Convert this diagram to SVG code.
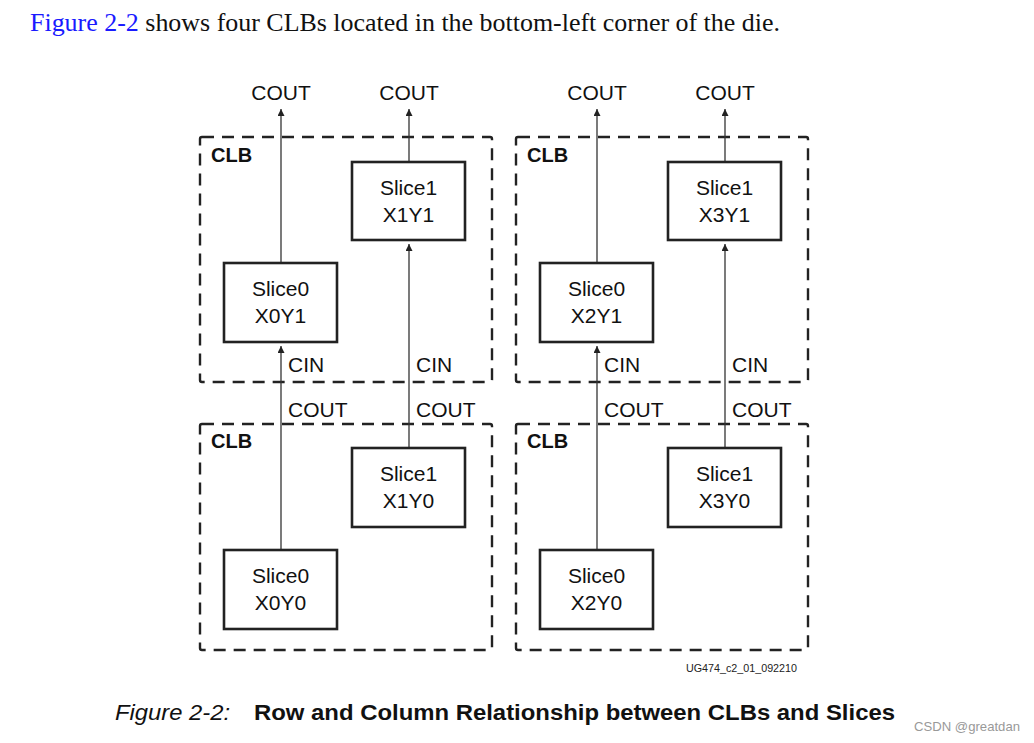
<svg xmlns="http://www.w3.org/2000/svg" width="1034" height="743" viewBox="0 0 1034 743">
<defs>
<marker id="ah" viewBox="0 0 10 10" refX="10" refY="5" markerWidth="11" markerHeight="7" markerUnits="userSpaceOnUse" orient="auto">
<path d="M0,0 L10,5 L0,10 z" fill="#222"/>
</marker>
</defs>
<style>
.clb{fill:none;stroke:#222;stroke-width:2.4;stroke-dasharray:12 8}
.sl{fill:#fff;stroke:#222;stroke-width:2.6}
.t{font-family:"Liberation Sans",Arial,sans-serif;font-size:21px;fill:#111}
.c{text-anchor:middle}
.b{font-family:"Liberation Sans",Arial,sans-serif;font-size:20px;font-weight:bold;fill:#111}
.w{stroke:#333;stroke-width:1.3;fill:none}
.a{marker-end:url(#ah)}
</style>
<rect width="1034" height="743" fill="#fff"/>
<text x="30" y="31" font-family="'Liberation Serif','Times New Roman',serif" font-size="25" fill="#111" textLength="750" lengthAdjust="spacingAndGlyphs"><tspan fill="#1a1aff">Figure 2-2</tspan> shows four CLBs located in the bottom-left corner of the die.</text>

<g id="clb-x0-top"><rect class="clb" x="200" y="137" width="292" height="245" rx="2"/><text class="b" x="211" y="162">CLB</text></g>
<g id="clb-x0-bot"><rect class="clb" x="200" y="424" width="292" height="226" rx="2"/><text class="b" x="211" y="448">CLB</text></g>
<g id="clb-x1-top"><rect class="clb" x="516" y="137" width="292" height="245" rx="2"/><text class="b" x="527" y="162">CLB</text></g>
<g id="clb-x1-bot"><rect class="clb" x="516" y="424" width="292" height="226" rx="2"/><text class="b" x="527" y="448">CLB</text></g>

<g id="connectors">
<line class="w a" x1="281" y1="263" x2="281" y2="109"/>
<line class="w a" x1="409" y1="162" x2="409" y2="109"/>
<line class="w a" x1="281" y1="550" x2="281" y2="346"/>
<line class="w a" x1="409" y1="448" x2="409" y2="244"/>
<line class="w a" x1="597" y1="263" x2="597" y2="109"/>
<line class="w a" x1="725" y1="162" x2="725" y2="109"/>
<line class="w a" x1="597" y1="550" x2="597" y2="346"/>
<line class="w a" x1="725" y1="448" x2="725" y2="244"/>
<text class="t c" x="281" y="100">COUT</text>
<text class="t c" x="409" y="100">COUT</text>
<text class="t c" x="597" y="100">COUT</text>
<text class="t c" x="725" y="100">COUT</text>
<text class="t" x="288" y="372">CIN</text>
<text class="t" x="416" y="372">CIN</text>
<text class="t" x="604" y="372">CIN</text>
<text class="t" x="732" y="372">CIN</text>
<text class="t" x="288" y="417">COUT</text>
<text class="t" x="416" y="417">COUT</text>
<text class="t" x="604" y="417">COUT</text>
<text class="t" x="732" y="417">COUT</text>
</g>

<g id="slice-x1y1"><rect class="sl" x="352" y="162" width="113" height="78"/><text class="t c" x="408.5" y="195">Slice1</text><text class="t c" x="408.5" y="222">X1Y1</text></g>
<g id="slice-x0y1"><rect class="sl" x="224" y="263" width="113" height="79"/><text class="t c" x="280.5" y="296">Slice0</text><text class="t c" x="280.5" y="323">X0Y1</text></g>
<g id="slice-x1y0"><rect class="sl" x="352" y="448" width="113" height="79"/><text class="t c" x="408.5" y="481">Slice1</text><text class="t c" x="408.5" y="508">X1Y0</text></g>
<g id="slice-x0y0"><rect class="sl" x="224" y="550" width="113" height="79"/><text class="t c" x="280.5" y="583">Slice0</text><text class="t c" x="280.5" y="610">X0Y0</text></g>

<g id="slice-x3y1"><rect class="sl" x="668" y="162" width="113" height="78"/><text class="t c" x="724.5" y="195">Slice1</text><text class="t c" x="724.5" y="222">X3Y1</text></g>
<g id="slice-x2y1"><rect class="sl" x="540" y="263" width="113" height="79"/><text class="t c" x="596.5" y="296">Slice0</text><text class="t c" x="596.5" y="323">X2Y1</text></g>
<g id="slice-x3y0"><rect class="sl" x="668" y="448" width="113" height="79"/><text class="t c" x="724.5" y="481">Slice1</text><text class="t c" x="724.5" y="508">X3Y0</text></g>
<g id="slice-x2y0"><rect class="sl" x="540" y="550" width="113" height="79"/><text class="t c" x="596.5" y="583">Slice0</text><text class="t c" x="596.5" y="610">X2Y0</text></g>

<text x="686" y="672" font-family="'Liberation Sans',Arial,sans-serif" font-size="11.5" fill="#222" textLength="111" lengthAdjust="spacingAndGlyphs">UG474_c2_01_092210</text>
<text x="115" y="720" font-family="'Liberation Sans',Arial,sans-serif" font-size="22" font-style="italic" fill="#111" textLength="115" lengthAdjust="spacingAndGlyphs">Figure 2-2:</text>
<text x="254" y="720" font-family="'Liberation Sans',Arial,sans-serif" font-size="22" font-weight="bold" fill="#111" textLength="641" lengthAdjust="spacingAndGlyphs">Row and Column Relationship between CLBs and Slices</text>
<text x="914" y="731" font-family="'Liberation Sans',Arial,sans-serif" font-size="13" fill="#999" textLength="106" lengthAdjust="spacingAndGlyphs">CSDN @greatdan</text>
</svg>
